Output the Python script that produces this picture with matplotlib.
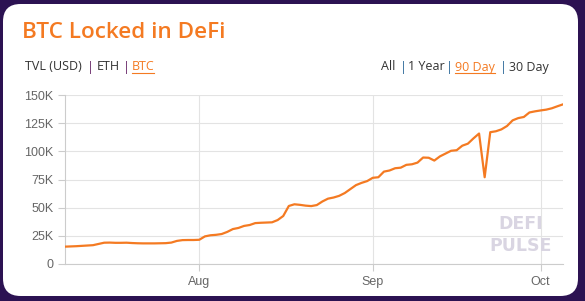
import numpy as np
import pandas as pd
import matplotlib
matplotlib.use("Agg")
import matplotlib.pyplot as plt
import matplotlib.dates as mdates
from matplotlib.patches import FancyBboxPatch
from matplotlib.lines import Line2D

# BTC locked in DeFi, last 90 days (thousands of BTC)
start_date = "2020-07-08"
btc_locked = [
    15.4, 15.6, 15.8, 16.1, 16.4, 16.7, 17.8, 18.9, 19.0, 18.8,
    18.8, 18.9, 18.6, 18.4, 18.3, 18.3, 18.3, 18.4, 18.5, 19.0,
    20.5, 21.2, 21.3, 21.3, 21.5, 24.5, 25.5, 25.9, 26.6, 28.5,
    31.0, 32.0, 33.8, 34.6, 36.3, 36.6, 36.8, 37.0, 39.0, 42.6,
    51.5, 53.0, 52.5, 51.8, 51.4, 52.3, 55.5, 58.0, 59.0, 60.5,
    63.0, 66.5, 70.0, 72.0, 73.6, 76.5, 77.0, 82.0, 83.0, 85.0,
    85.5, 88.0, 88.5, 90.0, 94.5, 94.3, 91.8, 95.5, 98.0, 100.5,
    101.0, 105.0, 106.8, 111.5, 115.8, 77.0, 117.0, 117.8, 119.5, 122.5,
    127.5, 129.5, 130.5, 134.5, 135.5, 136.3, 137.0, 138.2, 140.0, 141.7,
]
y_ticks = [0, 25, 50, 75, 100, 125, 150]
y_labels = ["0", "25K", "50K", "75K", "100K", "125K", "150K"]
left_tabs = ["TVL (USD)", "ETH", "BTC"]
right_tabs = ["All", "1 Year", "90 Day", "30 Day"]

dates = pd.date_range(start_date, periods=len(btc_locked), freq="D")

W, H = 585, 301
orange = "#f47a22"
fig = plt.figure(figsize=(W / 100, H / 100), dpi=100)
fig.patch.set_facecolor("#2c1252")

def px(x, y):
    return x / W, 1 - y / H

# white card
card = FancyBboxPatch(px(3, 296), 575 / W, 292 / H,
                      boxstyle="round,pad=0,rounding_size=0.03",
                      transform=fig.transFigure, facecolor="white",
                      edgecolor="none", mutation_aspect=W / H, zorder=-5)
fig.patches.append(card)

fig.text(*px(22, 33), "BTC Locked in DeFi", color=orange, fontsize=16.2,
         fontweight="semibold", family="Open Sans", va="center", ha="left")

# tabs
tab_font = dict(fontsize=9, family="Open Sans", va="center", ha="left")
lx = [25, 97, 132]
for i, t in enumerate(left_tabs):
    col = orange if t == "BTC" else "#333333"
    fig.text(*px(lx[i], 67), t, color=col, **tab_font)
for sx in [87, 123]:
    fig.text(*px(sx, 67), "|", color="#6a2a6a", **tab_font)
fig.add_artist(Line2D([132 / W, 154 / W], [1 - 72.5 / H] * 2, color=orange, lw=0.8))

rx = [381, 408, 455, 509]
for i, t in enumerate(right_tabs):
    col = orange if t == "90 Day" else "#333333"
    fig.text(*px(rx[i], 67), t, color=col, **tab_font)
for sx in [400, 446, 500]:
    fig.text(*px(sx, 67), "|", color="#2f6a9a", **tab_font)
fig.add_artist(Line2D([455 / W, 495 / W], [1 - 72.5 / H] * 2, color=orange, lw=0.8))

# chart area
ax = fig.add_axes([65 / W, 1 - 264 / H, (563 - 65) / W, (264 - 95) / H])
ax.set_facecolor("none")
ax.plot(dates, btc_locked, color=orange, lw=1.6, solid_joinstyle="round", zorder=3)
ax.set_xlim(dates[0], dates[-1])
ax.set_ylim(0, 150)
ax.set_yticks(y_ticks)
ax.set_yticklabels(y_labels)
ax.xaxis.set_major_locator(mdates.MonthLocator())
ax.xaxis.set_major_formatter(mdates.DateFormatter("%b"))
ax.grid(True, color="#e3e3e3", lw=0.8)
ax.set_axisbelow(True)
for s in ["top", "right"]:
    ax.spines[s].set_visible(False)
for s in ["left", "bottom"]:
    ax.spines[s].set_color("#cccccc")
    ax.spines[s].set_linewidth(0.8)
ax.tick_params(colors="#cccccc", labelcolor="#666666", labelsize=9, length=5, width=0.8)
for lab in ax.get_xticklabels() + ax.get_yticklabels():
    lab.set_family("Liberation Sans")

# watermark
fig.text(*px(521, 235), "DEFI\nPULSE", color="#d9d5e2", fontsize=12.5,
         fontweight="bold", family="DejaVu Sans", ha="center", va="center",
         linespacing=1.25)

fig.savefig("out.png", dpi=100, facecolor=fig.get_facecolor())
